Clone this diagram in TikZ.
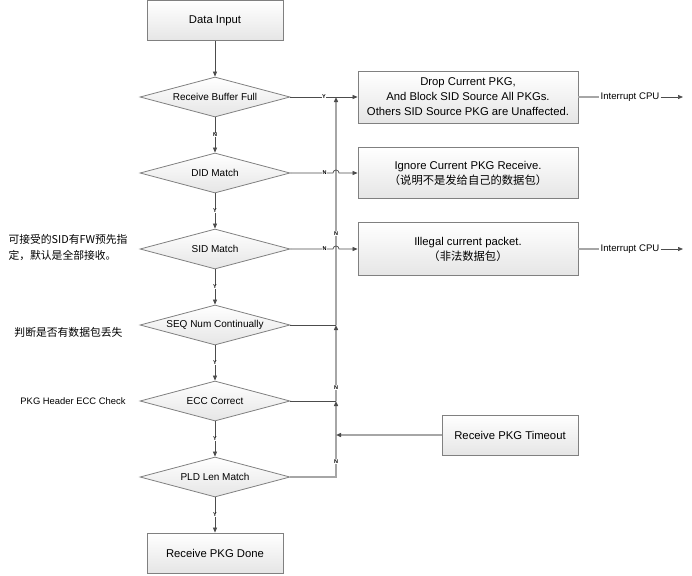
\documentclass[tikz,border=0pt]{standalone}
\usepackage{fontspec}
\setmainfont{Liberation Sans}
\newfontfamily\cjk{Noto Sans CJK SC}
\usetikzlibrary{arrows.meta,shapes.geometric,calc}

\begin{document}
\begin{tikzpicture}[x=1pt,y=-1pt,
  box/.style={draw=black!50,line width=0.8pt,top color=white,bottom color=black!10,
    minimum width=136pt,minimum height=40pt,inner sep=2pt,align=center,
    font=\fontsize{11.3}{15}\selectfont},
  decision/.style={diamond,shape aspect=3.75,draw=black!50,line width=0.8pt,
    top color=white,bottom color=black!10,minimum width=150pt,minimum height=40pt,
    inner sep=0pt,font=\fontsize{10}{11}\selectfont},
  link/.style={draw=black!70,line width=0.7pt},
  busline/.style={draw=black!35,line width=1.4pt},
  tip/.style={-{Triangle[length=5pt,width=4pt,color=black!70]}},
  yn/.style={fill=white,inner sep=0.6pt,font=\fontsize{5.5}{6}\bfseries\selectfont},
  note/.style={anchor=east,align=left,font=\fontsize{10.8}{16}\selectfont},
  irq/.style={inner sep=1pt,font=\fontsize{9.6}{10}\selectfont}]

  \useasboundingbox (0,0) rectangle (692,575);
  \def\cx{215}
  \coordinate (bus) at (336,0);

  \node[box] (input) at (\cx,20.5) {Data Input};
  \foreach \nm/\txt/\yy in {rbf/Receive Buffer Full/97,did/DID Match/173,
      sid/SID Match/249,seq/SEQ Num Continually/325,ecc/ECC Correct/401,
      pld/PLD Len Match/477}
    \node[decision] (\nm) at (\cx,\yy) {\txt};
  \node[box] (done) at (\cx,553) {Receive PKG Done};

  \node[box,minimum width=220pt,minimum height=52pt] (drop) at (468,97)
    {Drop Current PKG,\\And Block SID Source All PKGs.\\Others SID Source PKG are Unaffected.};
  \node[box,minimum width=220pt,minimum height=51pt] (ignore) at (468,173)
    {Ignore Current PKG Receive.\\{\cjk （说明不是发给自己的数据包）}};
  \node[box,minimum width=220pt,minimum height=53pt] (illegal) at (468,249)
    {Illegal current packet.\\{\cjk （非法数据包）}};
  \node[box] (timeout) at (510,435) {Receive PKG Timeout};

  \node[irq] (irq1) at (630,97) {Interrupt CPU};
  \node[irq] (irq2) at (630,249) {Interrupt CPU};
  \coordinate (irq1end) at (683,97);
  \coordinate (irq2end) at (683,249);

  \node[note] (sidnote) at (131,248) {\cjk 可接受的SID有FW预先指\\\cjk 定，默认是全部接收。};
  \node[note] (seqnote) at (126,332) {\cjk 判断是否有数据包丢失};
  \node[note,font=\fontsize{9.4}{11}\selectfont] (eccnote) at (129,401) {PKG Header ECC Check};

  \draw[link,tip] (input) -- (rbf);
  \foreach \a/\b/\l in {rbf/did/N,did/sid/Y,sid/seq/Y,seq/ecc/Y,ecc/pld/Y,pld/done/Y}
    \draw[link,tip] (\a) -- node[yn]{\l} (\b);

  \draw[busline,tip] (pld.east) -| node[yn,pos=0.6]{N} (ecc.east -| bus);
  \draw[link] (ecc.east) -- (ecc.east -| bus);
  \draw[busline,tip] (ecc.east -| bus) -- node[yn,pos=0.18]{N} (seq.east -| bus);
  \draw[link] (seq.east) -- (seq.east -| bus);
  \draw[busline,tip] (seq.east -| bus) -- node[yn,pos=0.4]{N} (rbf.east -| bus);
  \draw[busline,tip] (timeout) -- (timeout -| bus);

  \draw[link,tip] (rbf.east) -- node[yn]{Y} (rbf.east -| drop.west);
  \draw[link,tip] (did.east) -- node[yn,pos=0.8]{N} ($(did.east -| bus)+(-3,0)$)
    arc[start angle=180,end angle=360,radius=3] -- (did.east -| ignore.west);
  \draw[link,tip] (sid.east) -- node[yn,pos=0.8]{N} ($(sid.east -| bus)+(-3,0)$)
    arc[start angle=180,end angle=360,radius=3] -- (sid.east -| illegal.west);

  \draw[busline] (drop) -- (irq1);
  \draw[link,tip] (irq1) -- (irq1end);
  \draw[busline] (illegal) -- (irq2);
  \draw[link,tip] (irq2) -- (irq2end);
\end{tikzpicture}
\end{document}
